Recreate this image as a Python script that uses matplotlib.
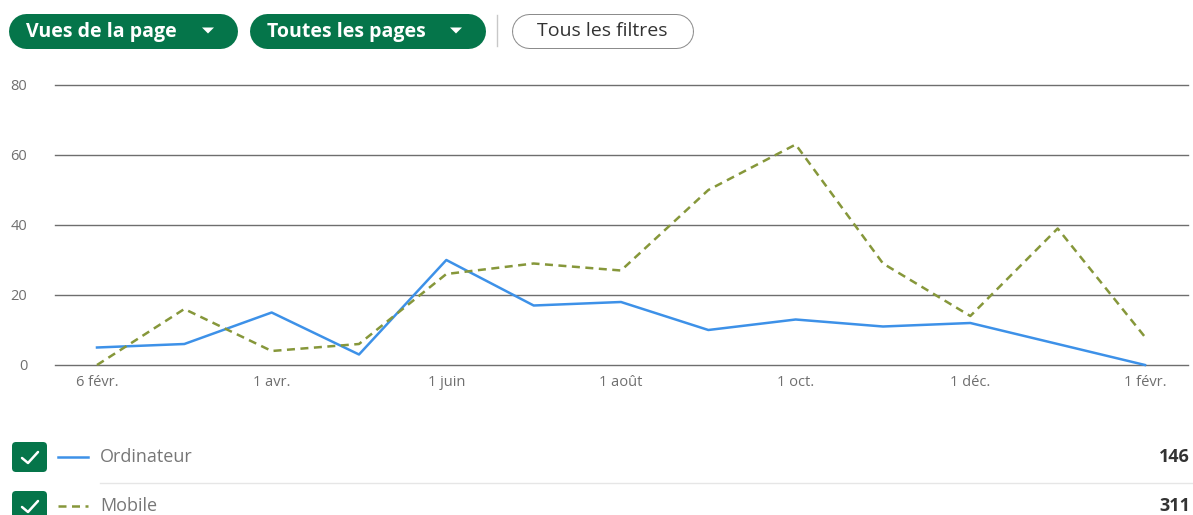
import matplotlib.pyplot as plt
from matplotlib.patches import FancyBboxPatch, Polygon

# monthly page views, Feb to Feb
months = ["6 févr.", "", "1 avr.", "", "1 juin", "", "1 août", "", "1 oct.", "", "1 déc.", "", "1 févr."]
desktop = [5, 6, 15, 3, 30, 17, 18, 10, 13, 11, 12, 6, 0]
mobile = [0, 16, 4, 6, 26, 29, 27, 50, 63, 29, 14, 39, 8]
series_names = ["Ordinateur", "Mobile"]
totals = [146, 311]
yticks = [0, 20, 40, 60, 80]

W, H = 1193, 515
green = "#05754a"
blue = "#3d91e8"
olive = "#86973a"
plt.rcParams['font.family'] = ['Open Sans', 'DejaVu Sans']

fig = plt.figure(figsize=(W / 100, H / 100), dpi=100)

# overlay for the page widgets, in pixel units (y measured from top)
ui = fig.add_axes([0, 0, 1, 1])
ui.set_xlim(0, W)
ui.set_ylim(0, H)
ui.axis("off")


def Y(y):
    return H - y


def pill(x0, x1, y0, y1, label, filled=True, caret=False):
    # pill shape = fat line with round caps (1 px = 0.72 pt)
    h = y1 - y0
    cy = (y0 + y1) / 2
    xs = [x0 + h / 2, x1 - h / 2]
    if filled:
        ui.plot(xs, [Y(cy)] * 2, color=green, lw=h * 0.72, solid_capstyle="round", zorder=1)
    else:
        ui.plot(xs, [Y(cy)] * 2, color="#8c8c8c", lw=h * 0.72, solid_capstyle="round", zorder=1)
        ui.plot(xs, [Y(cy)] * 2, color="white", lw=(h - 2) * 0.72, solid_capstyle="round", zorder=1.5)
    if caret:
        ui.text(x0 + 18, Y(cy + 1), label, ha="left", va="center", fontsize=14,
                fontweight="bold", color="white", zorder=4)
        cx = x1 - 29
        ui.add_patch(Polygon([[cx - 6, Y(cy - 3)], [cx + 6, Y(cy - 3)], [cx, Y(cy + 3)]],
                             closed=True, facecolor="white", edgecolor="none", zorder=4))
    else:
        ui.text((x0 + x1) / 2, Y(cy + 1), label, ha="center", va="center", fontsize=14,
                color="#333333", zorder=4)


pill(8, 237, 13, 48, "Vues de la page", caret=True)
pill(249, 485, 13, 48, "Toutes les pages", caret=True)
ui.plot([497, 497], [Y(15), Y(46)], color="#c8c8c8", lw=1)
pill(511, 693, 13, 48, "Tous les filtres", filled=False)

# legend rows with checkboxes
row_y = [457, 506]
styles = [dict(color=blue, ls="-"), dict(color=olive, ls=(0, (3.2, 2.2)))]
for yy, name, total, st in zip(row_y, series_names, totals, styles):
    ui.add_patch(FancyBboxPatch((12, Y(yy + 15)), 35, 30,
                                boxstyle="round,pad=0,rounding_size=4",
                                facecolor=green, edgecolor="none"))
    ui.plot([22, 28, 38], [Y(yy + 1), Y(yy + 6), Y(yy - 5)], color="white", lw=1.8,
            solid_capstyle="round", solid_joinstyle="round")
    ui.plot([58, 88], [Y(yy), Y(yy)], lw=1.8, **st)
    ui.text(100, Y(yy), name, ha="left", va="center", fontsize=13, color="#777777")
    ui.text(1190, Y(yy), str(total), ha="right", va="center", fontsize=13,
            fontweight="bold", color="#333333")
ui.plot([100, W], [Y(483), Y(483)], color="#e6e6e6", lw=1)

# the chart itself
ax = fig.add_axes([55 / W, 150 / H, (1188 - 55) / W, 280 / H])
x = list(range(len(months)))
for t in yticks:
    ax.axhline(t, color="#6e6e6e", lw=1, zorder=1, clip_on=False)
ax.plot(x, desktop, color=blue, lw=1.8, label=series_names[0], zorder=3, clip_on=False)
ax.plot(x, mobile, color=olive, lw=1.8, ls=(0, (3.2, 2.2)), label=series_names[1],
        zorder=3, clip_on=False)

ax.set_xlim(-42 / 87.33, 12 + 43 / 87.33)
ax.set_ylim(0, 80)
ax.set_yticks(yticks)
ax.set_xticks(x)
ax.set_xticklabels(months)
for s in ax.spines.values():
    s.set_visible(False)
ax.tick_params(length=0, labelsize=10.5, colors="#6f6f6f")
ax.tick_params(axis="x", pad=7)
ax.tick_params(axis="y", pad=20)
ax.patch.set_alpha(0)

fig.savefig("out.png", dpi=100)
